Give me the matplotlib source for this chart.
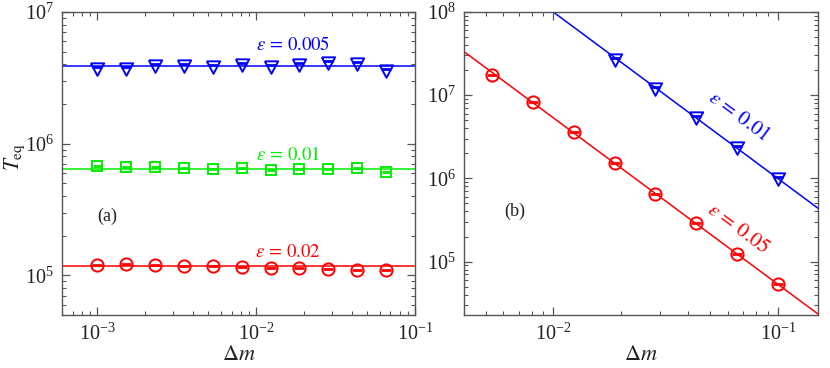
import matplotlib
matplotlib.use('Agg')
import matplotlib.pyplot as plt
from matplotlib.ticker import LogLocator, NullFormatter

plt.rcParams['font.family'] = ['Liberation Serif', 'DejaVu Serif']
plt.rcParams['mathtext.fontset'] = 'stix'
plt.rcParams['axes.unicode_minus'] = False

# ---- panel (a): T_eq vs dm, three epsilons, flat fits
dm_a = [1.0e-3, 1.52e-3, 2.31e-3, 3.51e-3, 5.34e-3, 8.11e-3,
        1.233e-2, 1.874e-2, 2.85e-2, 4.33e-2, 6.58e-2]
T_a_0005 = [3.85e6, 3.83e6, 4.04e6, 4.02e6, 3.97e6, 4.09e6,
            3.95e6, 4.13e6, 4.26e6, 4.18e6, 3.72e6]
T_a_001 = [6.74e5, 6.62e5, 6.70e5, 6.55e5, 6.47e5, 6.50e5,
           6.28e5, 6.39e5, 6.39e5, 6.58e5, 6.11e5]
T_a_002 = [1.20e5, 1.21e5, 1.20e5, 1.18e5, 1.18e5, 1.165e5,
           1.13e5, 1.13e5, 1.12e5, 1.10e5, 1.09e5]
fit_a = [3.9e6, 6.47e5, 1.17e5]

# ---- panel (b): T_eq ~ dm^-2
dm_b_005 = [5.34e-3, 8.11e-3, 1.233e-2, 1.874e-2, 2.85e-2, 4.33e-2, 6.58e-2, 0.1]
T_b_005 = [1.76e7, 8.17e6, 3.58e6, 1.53e6, 6.49e5, 2.87e5, 1.25e5, 5.35e4]
dm_b_001 = [1.874e-2, 2.85e-2, 4.33e-2, 6.58e-2, 0.1]
T_b_001 = [2.77e7, 1.26e7, 5.65e6, 2.43e6, 1.04e6]
fit_x_b = [0.004, 0.16]
fit_b_005 = [3.34e7, 2.09e4]
fit_b_001 = [6.25e8, 3.9e5]

BLUE = '#0000ff'
GREEN = '#00ee00'
RED = '#ff0000'
GREY = '#555555'

tri = [(-0.8, 0.5), (0.8, 0.5), (0.0, -1.0), (-0.8, 0.5)]


def style_axis(ax):
    ax.set_xscale('log')
    ax.set_yscale('log')
    for s in ax.spines.values():
        s.set_color(GREY)
        s.set_linewidth(1.0)
    ax.tick_params(which='both', direction='in', top=True, right=True,
                   color=GREY, labelsize=14.5, labelcolor='#222222')
    ax.tick_params(which='major', length=6, width=0.9, pad=6)
    ax.tick_params(which='minor', length=3, width=0.8)
    for a in (ax.xaxis, ax.yaxis):
        a.set_major_locator(LogLocator(base=10, numticks=20))
        a.set_minor_locator(LogLocator(base=10, subs=range(2, 10), numticks=20))
        a.set_minor_formatter(NullFormatter())
    ax.set_xlabel(r'$\Delta m$', fontsize=16, color='#222222', labelpad=1)


def marks(ax, x, y, marker, color, ms, cap):
    ax.plot(x, y, linestyle='none', marker=marker, ms=ms, mfc='none',
            mec=color, mew=1.4)
    ax.plot(x, y, linestyle='none', marker='_', ms=cap, mec=color, mew=2.0)


fig = plt.figure(figsize=(8.3, 3.68), dpi=100)
ax1 = fig.add_axes([0.0747, 0.144, 0.4253, 0.8234])
ax2 = fig.add_axes([0.559, 0.144, 0.4265, 0.8234])

# (a)
style_axis(ax1)
for val, col in zip(fit_a, [BLUE, GREEN, RED]):
    ax1.axhline(val, color=col, lw=1.1)
marks(ax1, dm_a, T_a_0005, tri, BLUE, 12, 7.5)
marks(ax1, dm_a, T_a_001, 's', GREEN, 7.2, 6)
marks(ax1, dm_a, T_a_002, 'o', RED, 8.8, 7)
ax1.set_xlim(6.0e-4, 0.1)
ax1.set_ylim(5.0e4, 1e7)
ax1.set_ylabel(r'$T_{\mathrm{eq}}$', fontsize=15.5, color='#222222')
ax1.yaxis.set_label_coords(-0.1, 0.52)
ax1.text(0.654, 0.891, r'$\varepsilon\,=\,0.005$', color=BLUE, fontsize=13.5,
         ha='center', va='center', transform=ax1.transAxes)
ax1.text(0.640, 0.528, r'$\varepsilon\,=\,0.01$', color=GREEN, fontsize=13.5,
         ha='center', va='center', transform=ax1.transAxes)
ax1.text(0.640, 0.205, r'$\varepsilon\,=\,0.02$', color=RED, fontsize=13.5,
         ha='center', va='center', transform=ax1.transAxes)
ax1.text(0.127, 0.327, '(a)', fontsize=13, color='#222222',
         ha='center', va='center', transform=ax1.transAxes)

# (b)
style_axis(ax2)
ax2.plot(fit_x_b, fit_b_005, color=RED, lw=1.1)
ax2.plot(fit_x_b, fit_b_001, color=BLUE, lw=1.1)
marks(ax2, dm_b_005, T_b_005, 'o', RED, 8.8, 7)
marks(ax2, dm_b_001, T_b_001, tri, BLUE, 12, 7.5)
ax2.set_xlim(4.0e-3, 0.151)
ax2.set_ylim(2.28e4, 1e8)
ax2.text(0.774, 0.653, r'$\varepsilon\,=\,0.01$', color=BLUE, fontsize=15,
         rotation=-36.5, ha='center', va='center', transform=ax2.transAxes)
ax2.text(0.774, 0.284, r'$\varepsilon\,=\,0.05$', color=RED, fontsize=15,
         rotation=-36.5, ha='center', va='center', transform=ax2.transAxes)
ax2.text(0.144, 0.343, '(b)', fontsize=13, color='#222222',
         ha='center', va='center', transform=ax2.transAxes)

fig.savefig('out.png', dpi=100)
